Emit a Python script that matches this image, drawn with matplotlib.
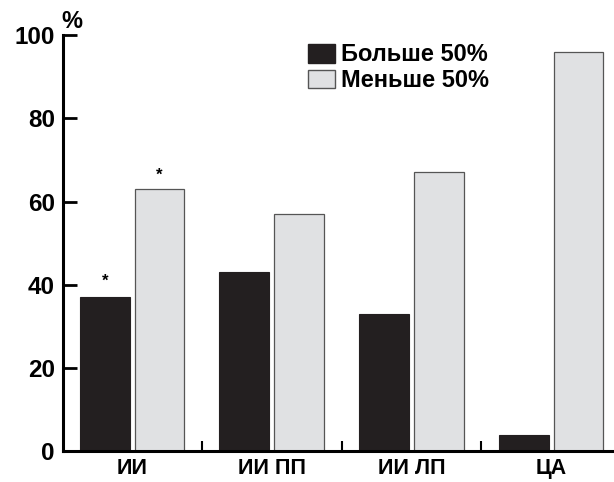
"""
Grouped bar chart: share of patients above/below 50% per group.
"""
import numpy as np
import matplotlib.pyplot as plt
from matplotlib.patches import Patch

plt.rcParams["font.family"] = ["Liberation Sans", "DejaVu Sans"]
plt.rcParams["font.weight"] = "bold"

groups = ["ИИ", "ИИ ПП", "ИИ ЛП", "ЦА"]
more_50 = [37, 43, 33, 4]
less_50 = [63, 57, 67, 96]
legend_labels = ["Больше 50%", "Меньше 50%"]
y_ticks = [0, 20, 40, 60, 80, 100]

dark = "#231f20"
light = "#e0e1e3"

fig = plt.figure(figsize=(6.14, 4.82), dpi=100)
ax = fig.add_axes([0.103, 0.064, 0.897, 0.863])

x = np.arange(len(groups))
width = 0.357
off = 0.196
ax.bar(x - off, more_50, width, color=dark, edgecolor=dark, linewidth=0.8)
ax.bar(x + off, less_50, width, color=light, edgecolor="#555555",
       linewidth=0.9)

# significance marks on the first group
ax.text(x[0] - off, more_50[0] + 2, "*", ha="center", va="bottom",
        fontsize=12)
ax.text(x[0] + off, less_50[0] + 1.5, "*", ha="center", va="bottom",
        fontsize=12)

ax.set_xlim(-0.493, 3.45)
ax.set_ylim(0, 100)

for side in ["top", "right"]:
    ax.spines[side].set_visible(False)
for side in ["left", "bottom"]:
    ax.spines[side].set_linewidth(2.2)

ax.set_yticks(y_ticks)
ax.set_yticklabels([str(v) for v in y_ticks], fontsize=17.5,
                   fontweight="bold")
ax.tick_params(axis="y", direction="in", length=10, width=2, pad=6)

ax.set_xticks(x[:-1] + 0.5)
ax.set_xticklabels([])
ax.tick_params(axis="x", direction="in", length=7, width=1.5)
ax.set_xticks(x, minor=True)
ax.set_xticklabels(groups, minor=True, fontsize=15.5, fontweight="bold")
ax.tick_params(axis="x", which="minor", length=0, pad=5)

fig.text(0.1, 0.955, "%", fontsize=17, fontweight="bold",
         ha="left", va="center")

handles = [Patch(facecolor=dark, edgecolor=dark),
           Patch(facecolor=light, edgecolor="#555555")]
ax.legend(handles, legend_labels, loc="upper left",
          bbox_to_anchor=(0.415, 1.02), frameon=False,
          prop={"size": 17, "weight": "bold"},
          handlelength=1.15, handleheight=0.85, handletextpad=0.25,
          labelspacing=0.12, borderpad=0.2)

fig.savefig("out.png", dpi=100)
